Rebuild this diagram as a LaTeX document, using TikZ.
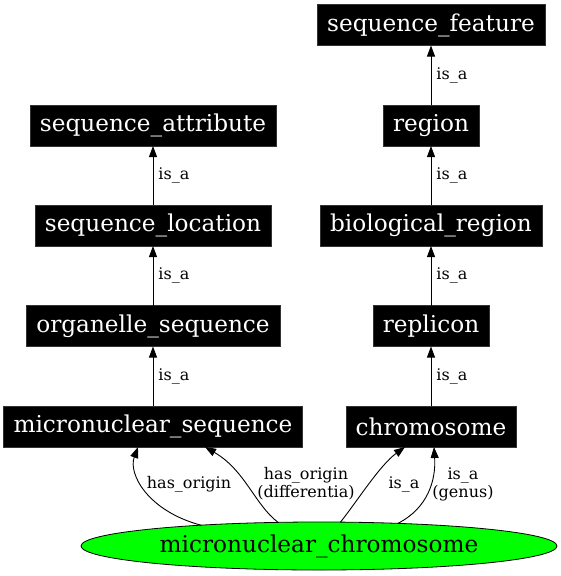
\documentclass[tikz,border=0pt]{standalone}
\usepackage{fontspec}
\setmainfont{DejaVu Serif}
\usetikzlibrary{arrows.meta,calc,shapes.geometric}
\definecolor{nodegreen}{HTML}{00FF00}
\tikzset{
  termbox/.style={fill=black,draw=black!80,text=white,minimum height=41pt,inner xsep=10pt,inner ysep=0pt,outer sep=0pt,font=\fontsize{23.2}{27}\selectfont},
  mainnode/.style={ellipse,fill=nodegreen,draw=black,line width=0.8pt,minimum width=476pt,minimum height=48pt,inner sep=0pt,outer sep=0pt,font=\fontsize{23.2}{27}\selectfont},
  rel/.style={draw=black,line width=0.9pt,-{Triangle[length=11pt,width=8pt]}},
  rellabel/.style={font=\fontsize{16}{18}\selectfont,align=center,inner sep=0pt},
}
\begin{document}
\begin{tikzpicture}[x=1pt,y=-1pt]
\useasboundingbox (0,0) rectangle (561,576);
% right column
\node[termbox] (sf) at (431,25) {sequence\_feature};
\node[termbox] (rg) at (431,125.5) {region};
\node[termbox] (br) at (431,225.5) {biological\_region};
\node[termbox] (rp) at (431,326) {replicon};
\node[termbox] (ch) at (431,426.5) {chromosome};
% left column
\node[termbox] (sa) at (153,125.5) {sequence\_attribute};
\node[termbox] (sl) at (153,225.5) {sequence\_location};
\node[termbox] (os) at (153,326) {organelle\_sequence};
\node[termbox] (ms) at (153,426.5) {micronuclear\_sequence};
% main
\node[mainnode] (mc) at (319,546) {micronuclear\_chromosome};
% vertical is_a edges
\foreach \a/\b in {rg/sf,br/rg,rp/br,ch/rp,sl/sa,os/sl,ms/os}{
  \draw[rel] (\a.north) -- (\b.south) node[rellabel,midway,right,xshift=5pt] {is\_a};
}
% curved edges
\coordinate (e1) at ($(ms.south)+(-15,0)$);
\coordinate (e2) at ($(ms.south)+(52,0)$);
\coordinate (e3) at ($(ch.south)+(-26,0)$);
\coordinate (e4) at ($(ch.south)+(3,0)$);
\draw[rel] (mc.170.9) .. controls (148,511) and (128,474) .. (e1);
\draw[rel] (mc.150.1) .. controls (255,505) and (245,470) .. (e2);
\draw[rel] (mc.48.7) .. controls (358,500) and (380,465) .. (e3);
\draw[rel] (mc.16.6) .. controls (428,508) and (436,480) .. (e4);
\node[rellabel] (l1) at (189,484) {has\_origin};
\node[rellabel] (l2) at (306,484) {has\_origin\\(differentia)};
\node[rellabel] (l3) at (404,484) {is\_a};
\node[rellabel] (l4) at (463,484) {is\_a\\(genus)};
\end{tikzpicture}
\end{document}
